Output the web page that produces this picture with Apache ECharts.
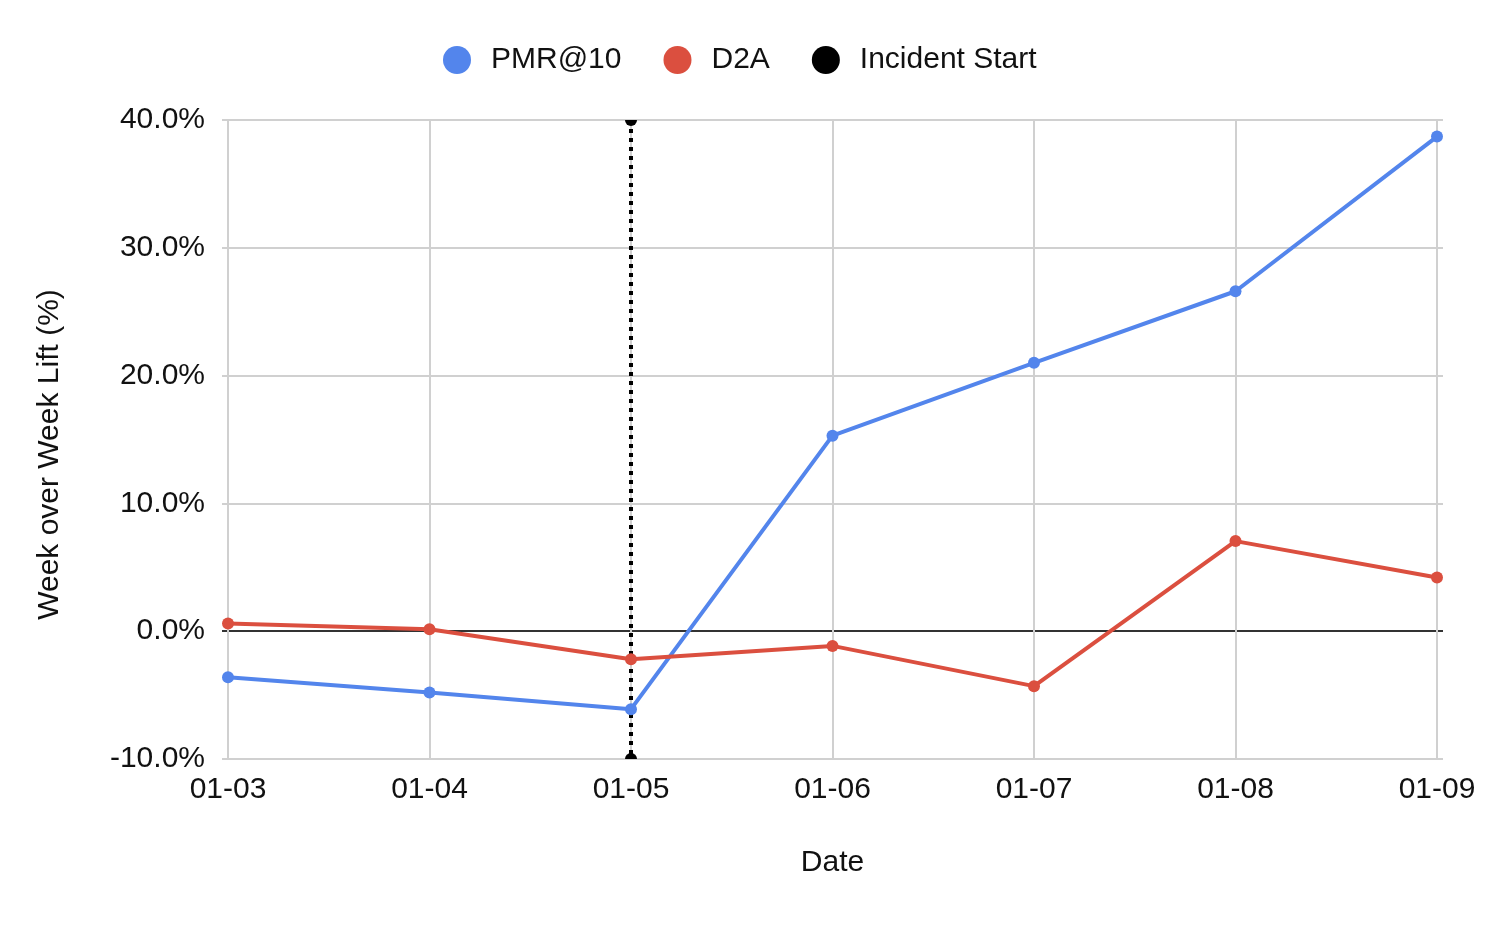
<!DOCTYPE html>
<html>
<head>
<meta charset="utf-8">
<script src="https://cdn.jsdelivr.net/npm/echarts@6/dist/echarts.min.js"></script>
<style>
html,body{margin:0;padding:0;background:#fff;}
#chart{width:1490px;height:926px;}
</style>
</head>
<body>
<div id="chart"></div>
<script>
const categories = ['01-03','01-04','01-05','01-06','01-07','01-08','01-09'];
const pmr10 = [-3.6, -4.8, -6.1, 15.3, 21.0, 26.6, 38.7];
const d2a = [0.6, 0.15, -2.2, -1.15, -4.3, 7.05, 4.2];
const incidentDate = '01-05';
const incidentRange = [40, -10];
const yTicks = [-10, 0, 10, 20, 30, 40];

const FONT = 'Liberation Sans, Arial, Helvetica, sans-serif';
const FS = 30;
const TXT = '#111';
const GRIDC = '#d0d0d0';

const chart = echarts.init(document.getElementById('chart'), null, {renderer:'canvas'});
const yMin = yTicks[0], yMax = yTicks[yTicks.length-1], yInt = yTicks[1]-yTicks[0];

chart.setOption({
  animation:false,
  backgroundColor:'#fff',
  textStyle:{fontFamily:FONT},
  legend:{
    top:40, left:438, padding:5,
    icon:'circle', itemWidth:28, itemHeight:28, itemGap:42,
    textStyle:{fontSize:FS, color:TXT, fontFamily:FONT, padding:[0,0,0,15]},
    data:['PMR@10','D2A','Incident Start']
  },
  grid:[
    {left:228, right:53, top:120, bottom:167, containLabel:false},
    {left:222, right:47, top:120, bottom:167, containLabel:false}
  ],
  xAxis:[
    {
      type:'category', gridIndex:0, data:categories, boundaryGap:false,
      axisLine:{show:false},
      axisTick:{show:true, length:6, lineStyle:{color:GRIDC, width:2}},
      axisLabel:{fontSize:FS, color:TXT, fontFamily:FONT, margin:16},
      splitLine:{show:true, lineStyle:{color:GRIDC, width:2}},
      name:'Date', nameLocation:'middle', nameGap:89,
      nameTextStyle:{fontSize:FS, color:TXT, fontFamily:FONT}
    },
    {type:'value', gridIndex:1, show:false, min:0, max:1}
  ],
  yAxis:[
    {
      type:'value', gridIndex:0, min:yMin, max:yMax, interval:yInt,
      axisLine:{show:false}, axisTick:{show:false},
      splitLine:{show:false},
      axisLabel:{fontSize:FS, color:TXT, fontFamily:FONT, margin:23,
        formatter:v=>v.toFixed(1)+'%'},
      name:'Week over Week Lift (%)', nameLocation:'middle', nameGap:163,
      nameTextStyle:{fontSize:FS, color:TXT, fontFamily:FONT, padding:[0,30,0,0]}
    },
    {
      type:'value', gridIndex:1, min:yMin, max:yMax, interval:yInt,
      axisLine:{show:false}, axisTick:{show:false}, axisLabel:{show:false},
      splitLine:{show:true, lineStyle:{color:[GRIDC,'#333',GRIDC,GRIDC,GRIDC,GRIDC], width:2}}
    }
  ],
  series:[
    {
      name:'PMR@10', type:'line', xAxisIndex:0, yAxisIndex:0, data:pmr10,
      color:'#5385ec', symbol:'circle', symbolSize:12, showAllSymbol:true,
      lineStyle:{width:4, color:'#5385ec'}, itemStyle:{color:'#5385ec'}, z:3
    },
    {
      name:'D2A', type:'line', xAxisIndex:0, yAxisIndex:0, data:d2a,
      color:'#db4f3f', symbol:'circle', symbolSize:12, showAllSymbol:true,
      lineStyle:{width:4, color:'#db4f3f'}, itemStyle:{color:'#db4f3f'}, z:3
    },
    {
      name:'Incident Start', type:'line', xAxisIndex:0, yAxisIndex:0,
      color:'#000', z:2,
      data:[
        {value:[incidentDate, incidentRange[0]], symbol:'path://M0,0 A1,1 0 0 0 2,0 Z', symbolSize:[12,6], symbolOffset:[0,3]},
        {value:[incidentDate, incidentRange[1]], symbol:'path://M0,1 A1,1 0 0 1 2,1 Z', symbolSize:[12,6], symbolOffset:[0,-3]}
      ],
      lineStyle:{width:4, color:'#000', type:[4,5]},
      itemStyle:{color:'#000'}
    }
  ]
});
</script>
</body>
</html>
